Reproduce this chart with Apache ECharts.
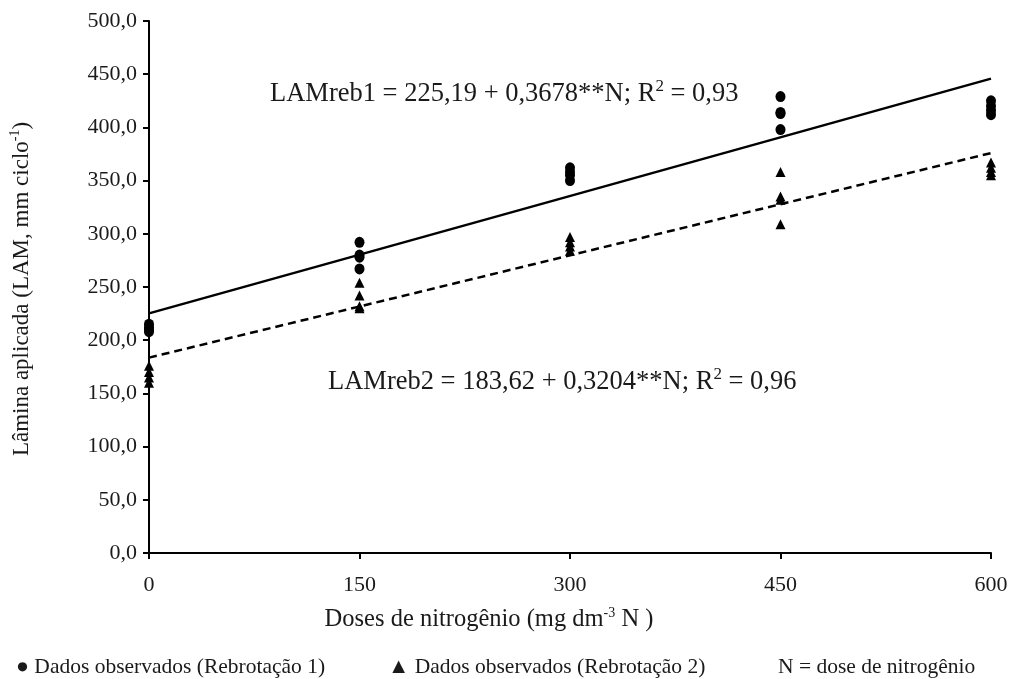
<!DOCTYPE html>
<html><head><meta charset="utf-8">
<script src="https://cdn.jsdelivr.net/npm/echarts@6/dist/echarts.min.js"></script>
<style>html,body{margin:0;padding:0;background:#fff}#c{width:1011px;height:679px}</style>
</head><body><div id="c"></div>
<script>
var doses = [0, 150, 300, 450, 600];
var reb1 = [
  [208, 210, 212, 215],
  [267, 278, 280, 292],
  [350, 355, 358, 362],
  [398, 413, 414, 429],
  [412, 416, 420, 425]
];
var reb2 = [
  [160, 165, 170, 176],
  [230, 232, 242, 254],
  [284, 288, 292, 297],
  [309, 332, 335, 358],
  [355, 358, 362, 367]
];
var fit1X = [0, 600], fit1Y = [225.19, 445.87];
var fit2X = [0, 600], fit2Y = [183.62, 375.86];

function pts(vals) {
  var out = [];
  vals.forEach(function (g, i) { g.forEach(function (v) { out.push([doses[i], v]); }); });
  return out;
}
function line(xs, ys) { return xs.map(function (x, i) { return [x, ys[i]]; }); }

var F = '"Liberation Serif", "Times New Roman", serif';
var TC = '#1a1a1a';
var supStyle = function (fs) { return { fontFamily: F, fontSize: fs, fill: TC, padding: [0, 0, Math.round(fs * 0.9), 0] }; };
var chart = echarts.init(document.getElementById('c'));
chart.setOption({
  animation: false,
  textStyle: { fontFamily: F, color: TC },
  grid: { left: 149, right: 20, top: 21, bottom: 126 },
  xAxis: {
    type: 'value', min: 0, max: 600, interval: 150,
    axisLine: { show: true, lineStyle: { color: '#000', width: 2 } },
    axisTick: { show: true, inside: false, length: 6, lineStyle: { color: '#000', width: 2 } },
    axisLabel: { fontFamily: F, fontSize: 22, color: TC, margin: 21 },
    splitLine: { show: false }
  },
  yAxis: {
    type: 'value', min: 0, max: 500, interval: 50,
    axisLine: { show: true, lineStyle: { color: '#000', width: 2 } },
    axisTick: { show: true, inside: false, length: 6, lineStyle: { color: '#000', width: 2 } },
    axisLabel: { fontFamily: F, fontSize: 22, color: TC, margin: 12,
      formatter: function (v) { return v.toFixed(1).replace('.', ','); } },
    splitLine: { show: false }
  },
  series: [
    { type: 'line', data: line(fit1X, fit1Y), symbol: 'none', lineStyle: { color: '#000', width: 2.5 }, z: 2 },
    { type: 'line', data: line(fit2X, fit2Y), symbol: 'none', lineStyle: { color: '#000', width: 2.5, type: [8, 5] }, z: 2 },
    { type: 'scatter', data: pts(reb1), symbol: 'circle', symbolSize: [10, 11], itemStyle: { color: '#000', opacity: 1 }, z: 3 },
    { type: 'scatter', data: pts(reb2), symbol: 'triangle', symbolSize: 10, itemStyle: { color: '#000', opacity: 1 }, z: 3 }
  ],
  graphic: [
    { type: 'text', left: 270, top: 78, style: {
      text: '{n|LAMreb1 = 225,19 + 0,3678**N; R}{s|2}{n| = 0,93}',
      rich: { n: { fontFamily: F, fontSize: 26.5, fill: TC }, s: supStyle(17) } } },
    { type: 'text', left: 328, top: 366, style: {
      text: '{n|LAMreb2 = 183,62 + 0,3204**N; R}{s|2}{n| = 0,96}',
      rich: { n: { fontFamily: F, fontSize: 26.5, fill: TC }, s: supStyle(17) } } },
    { type: 'text', x: 22, y: 289, rotation: Math.PI / 2, style: {
      text: '{n|Lâmina aplicada (LAM, mm ciclo}{s|-1}{n|)}', align: 'center', verticalAlign: 'middle',
      rich: { n: { fontFamily: F, fontSize: 23, fill: TC }, s: supStyle(14) } } },
    { type: 'text', x: 489, y: 620, style: {
      text: '{n|Doses de nitrogênio (mg dm}{s|-3}{n| N )}', align: 'center', verticalAlign: 'middle',
      rich: { n: { fontFamily: F, fontSize: 24.5, fill: TC }, s: supStyle(14) } } },
    { type: 'text', left: 16, top: 656, style: { text: '● Dados observados (Rebrotação 1)', fontFamily: F, fontSize: 21.5, fill: TC } },
    { type: 'text', left: 388, top: 656, style: { text: '▲ Dados observados (Rebrotação 2)', fontFamily: F, fontSize: 21.5, fill: TC } },
    { type: 'text', left: 778, top: 656, style: { text: 'N = dose de nitrogênio', fontFamily: F, fontSize: 21.5, fill: TC } }
  ]
});
</script></body></html>
